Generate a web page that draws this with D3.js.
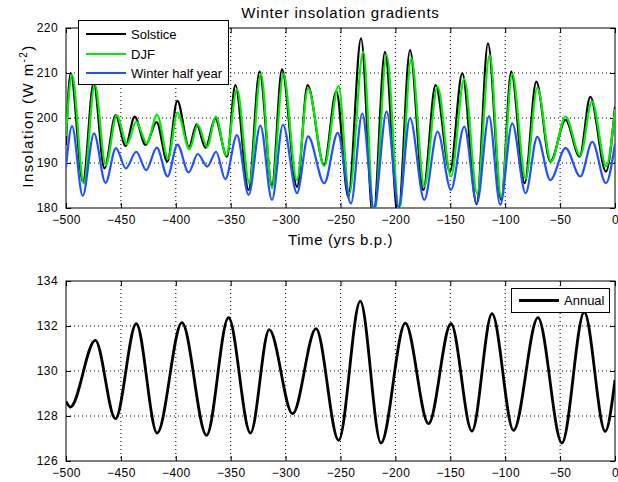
<!DOCTYPE html>
<html>
<head>
<meta charset="utf-8">
<script src="https://cdn.jsdelivr.net/npm/d3@7"></script>
<style>
  body { margin: 0; background: #fff; }
  svg { display: block; font-family: "Liberation Sans", Arial, sans-serif; }
  .axis text { font-size: 12px; fill: #000; letter-spacing: 0.4px; }
  .axis line { stroke: #000; }
  .grid line { stroke: #000; stroke-width: 1; stroke-dasharray: 1,3; }
</style>
</head>
<body>
<svg id="chart" width="618" height="482"></svg>
<script>
// ---- data ----
const xTicks = [-500, -450, -400, -350, -300, -250, -200, -150, -100, -50, 0];
const topYTicks = [180, 190, 200, 210, 220];
const bottomYTicks = [126, 128, 130, 132, 134];

const solsticeYears = [-500, -495.8, -484.5, -474.8, -465, -454.8, -445.7, -437.5, -427.5, -417.5, -407.7, -398.6, -388, -381, -373, -364, -353.4, -345.8, -333.7, -323.7, -312.4, -303.3, -289.6, -280, -265, -253.8, -242.9, -231.3, -220.2, -209.5, -197.5, -186.7, -174.6, -163.4, -150.3, -139.1, -126, -115.7, -103.6, -94.5, -82.3, -71.7, -58.9, -45, -32.2, -22.5, -8.3, 0];
const solsticeValues = [194, 210, 185.8, 207.8, 188.8, 200.6, 193.8, 200.3, 194, 199.1, 190.3, 203.8, 193.6, 198.6, 193.4, 199.8, 191.4, 207.3, 184, 210.3, 185.1, 210.8, 184.7, 207.3, 189.6, 205.9, 182.5, 217.7, 177.5, 214.7, 178, 215.1, 184, 207.3, 188.1, 209.9, 180.8, 216.6, 181.8, 210.3, 185.5, 208.1, 190.3, 199.6, 191.4, 204.7, 188.1, 202.5];

const djfYears = [-500, -494.5, -483.8, -473.8, -463.8, -453.8, -444.5, -436, -426.5, -417, -407, -398.5, -387.5, -380, -371.5, -363.5, -354, -344.3, -333, -322.5, -312.4, -302, -289.8, -279.5, -264.8, -251.8, -242, -229.3, -219.5, -208, -196.5, -185.5, -173.7, -161.6, -149.4, -137.3, -125.5, -114.2, -103.6, -93.6, -81.4, -70.8, -58.2, -45, -31.6, -21, -8, 0];
const djfValues = [196, 209.6, 185.5, 207.5, 189.5, 200.6, 194.2, 199.2, 194.4, 200.7, 191, 201.2, 193, 198.5, 193.6, 200.3, 191.7, 206.4, 185.5, 209.8, 184.4, 209.8, 186.2, 206.6, 189.3, 207.1, 183.2, 214.7, 178, 214, 179.5, 213.3, 184.8, 207, 187, 208.7, 183.2, 214, 182.4, 209.8, 186.5, 206.7, 190.3, 200.3, 191.6, 203.7, 189.3, 202];

const winterYears = [-500, -494.5, -484.8, -474.5, -464, -454.5, -445.5, -436, -427, -417.3, -407.5, -398.5, -388.3, -380, -371.3, -363.3, -354.9, -344.3, -333.7, -323, -312.4, -302.4, -289.6, -279.5, -264.8, -252.5, -240.5, -230.2, -219.5, -208, -197, -186.7, -173.7, -161.6, -149.4, -137.3, -125.8, -114.8, -104.5, -93.6, -81.4, -70.8, -58.9, -45, -31.6, -20.7, -8.3, 0];
const winterValues = [189, 198.2, 182.7, 196.6, 185.6, 193.3, 188.8, 192.5, 188.4, 193.4, 187, 194.1, 187.9, 192, 189.2, 192.5, 186.4, 196.2, 182.9, 198.3, 181.8, 198.5, 183.3, 195.9, 185.5, 196.7, 181, 201, 179.9, 201.4, 180.2, 200, 181.8, 197, 184, 198.1, 181, 200.4, 180.7, 198.8, 183.3, 195.8, 186.2, 193.3, 187, 194.7, 185.5, 194.3];

const annualYears = [-500, -496, -473.3, -455, -436, -417, -394.4, -372, -352, -332, -314.9, -293.6, -272.3, -251.7, -232, -213.1, -191, -169.8, -149.4, -130.3, -112, -92.4, -70.2, -48.3, -28, -8.9, 0];
const annualValues = [128.65, 128.4, 131.36, 127.88, 132.1, 127.24, 132.15, 127.14, 132.37, 127.24, 131.84, 128.1, 131.88, 126.92, 133.1, 126.8, 132.13, 127.66, 132.1, 127.33, 132.55, 127.36, 132.37, 126.8, 132.62, 127.32, 129.6];

const svg = d3.select("#chart");
const left = 66, right = 615;

const x = d3.scaleLinear().domain([-500, 0]).range([left, right]);

function pairs(xs, ys) {
  return xs.map((d, i) => [d, ys[i]]);
}

function panel(id, top, bottom, yDomain, yTicks) {
  const y = d3.scaleLinear().domain(yDomain).range([bottom, top]);
  const g = svg.append("g");

  // dotted grid
  const grid = g.append("g").attr("class", "grid");
  grid.selectAll(".gx").data(xTicks.slice(1, -1)).join("line")
    .attr("x1", d => x(d)).attr("x2", d => x(d))
    .attr("y1", top).attr("y2", bottom);
  grid.selectAll(".gy").data(yTicks.slice(1, -1)).join("line")
    .attr("x1", left).attr("x2", right)
    .attr("y1", d => y(d)).attr("y2", d => y(d));

  g.append("clipPath").attr("id", id)
    .append("rect")
    .attr("x", left).attr("y", top)
    .attr("width", right - left).attr("height", bottom - top);

  // axes, ticks pointing inwards like matlab
  g.append("g").attr("class", "axis")
    .attr("transform", `translate(0,${bottom})`)
    .call(d3.axisBottom(x).tickValues(xTicks).tickSize(-5).tickPadding(7))
    .call(a => a.select(".domain").remove());
  g.append("g").attr("class", "axis")
    .attr("transform", `translate(0,${top})`)
    .call(d3.axisTop(x).tickValues(xTicks).tickSize(-5).tickFormat(""))
    .call(a => a.select(".domain").remove());
  g.append("g").attr("class", "axis")
    .attr("transform", `translate(${left},0)`)
    .call(d3.axisLeft(y).tickValues(yTicks).tickSize(-5).tickPadding(8))
    .call(a => a.select(".domain").remove());
  g.append("g").attr("class", "axis")
    .attr("transform", `translate(${right},0)`)
    .call(d3.axisRight(y).tickValues(yTicks).tickSize(-5).tickFormat(""))
    .call(a => a.select(".domain").remove());

  g.append("rect")
    .attr("x", left).attr("y", top)
    .attr("width", right - left).attr("height", bottom - top)
    .attr("fill", "none").attr("stroke", "#000");

  return { g, y };
}

function drawLine(p, id, data, color, width) {
  const line = d3.line()
    .x(d => x(d[0]))
    .y(d => p.y(d[1]))
    .curve(d3.curveMonotoneX);
  p.g.append("path")
    .datum(data)
    .attr("clip-path", `url(#${id})`)
    .attr("d", line)
    .attr("fill", "none")
    .attr("stroke", color)
    .attr("stroke-width", width)
    .attr("stroke-linejoin", "round");
}

// ---- top panel ----
const topP = panel("clipTop", 28, 208, [180, 220], topYTicks);
const topSeries = [
  { name: "Solstice", data: pairs(solsticeYears, solsticeValues), color: "#000000" },
  { name: "DJF", data: pairs(djfYears, djfValues), color: "#00ee00" },
  { name: "Winter half year", data: pairs(winterYears, winterValues), color: "#2050ff" }
];
topSeries.forEach(s => drawLine(topP, "clipTop", s.data, s.color, 2.2));

svg.append("text")
  .attr("x", (left + right) / 2).attr("y", 18)
  .attr("text-anchor", "middle")
  .style("font-size", "15px").style("letter-spacing", "0.8px")
  .text("Winter insolation gradients");

svg.append("text")
  .attr("x", (left + right) / 2).attr("y", 245)
  .attr("text-anchor", "middle")
  .style("font-size", "15px").style("letter-spacing", "0.6px")
  .text("Time (yrs b.p.)");

const ylab = svg.append("text")
  .attr("transform", "translate(33,116) rotate(-90)")
  .attr("text-anchor", "middle")
  .style("font-size", "15px").style("letter-spacing", "1.4px");
ylab.append("tspan").text("Insolation (W m");
ylab.append("tspan").attr("dy", -6).style("font-size", "10px").text("-2");
ylab.append("tspan").attr("dy", 6).text(")");

// legend top
const leg = svg.append("g");
leg.append("rect")
  .attr("x", 78.5).attr("y", 20.5).attr("width", 150).attr("height", 64)
  .attr("fill", "#fff").attr("stroke", "#000");
const legRows = [34, 54, 73];
topSeries.forEach((s, i) => {
  leg.append("line")
    .attr("x1", 86).attr("x2", 126)
    .attr("y1", legRows[i]).attr("y2", legRows[i])
    .attr("stroke", s.color).attr("stroke-width", 2.2);
  leg.append("text")
    .attr("x", 131).attr("y", legRows[i] + 4.5)
    .style("font-size", "13px")
    .text(s.name);
});

// ---- bottom panel ----
const botP = panel("clipBot", 281, 461, [126, 134], bottomYTicks);
drawLine(botP, "clipBot", pairs(annualYears, annualValues), "#000", 2.8);

const leg2 = svg.append("g");
leg2.append("rect")
  .attr("x", 511.5).attr("y", 288.5).attr("width", 98).attr("height", 24)
  .attr("fill", "#fff").attr("stroke", "#000");
leg2.append("line")
  .attr("x1", 519).attr("x2", 559).attr("y1", 300.5).attr("y2", 300.5)
  .attr("stroke", "#000").attr("stroke-width", 2.8);
leg2.append("text")
  .attr("x", 564).attr("y", 305)
  .style("font-size", "13px")
  .text("Annual");
</script>
</body>
</html>
